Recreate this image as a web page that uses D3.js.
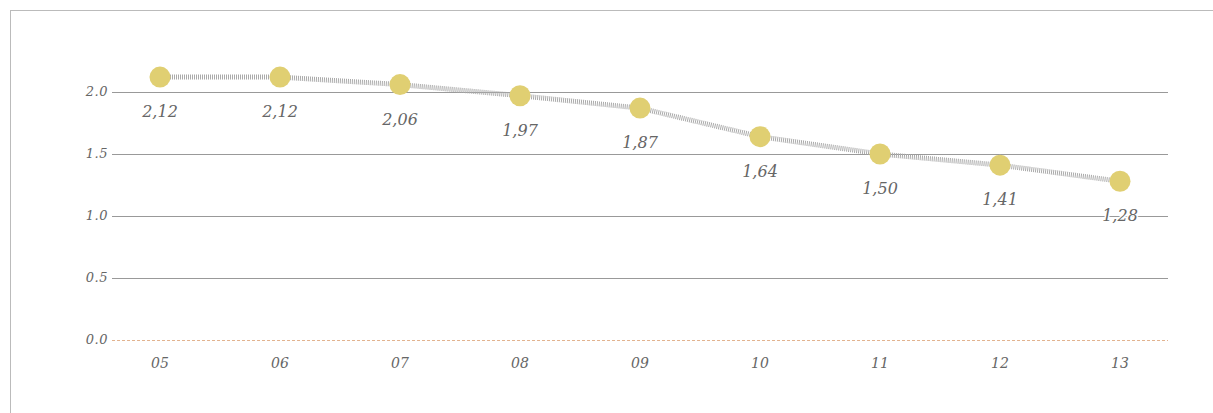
<!DOCTYPE html>
<html>
<head>
<meta charset="utf-8">
<script src="https://cdn.jsdelivr.net/npm/d3@7"></script>
<style>
  body { margin: 0; background: #fff; }
  #chart { position: absolute; left: 10px; top: 10px; width: 1300px; height: 500px;
           border-left: 1px solid #bbb; border-top: 1px solid #bbb; }
  text { font-family: "DejaVu Serif", "Liberation Serif", serif; font-style: italic; fill: #666; }
</style>
</head>
<body>
<div id="chart"></div>
<script>
// data
const years = ["05", "06", "07", "08", "09", "10", "11", "12", "13"];
const values = [2.12, 2.12, 2.06, 1.97, 1.87, 1.64, 1.50, 1.41, 1.28];
const valueLabels = ["2,12", "2,12", "2,06", "1,97", "1,87", "1,64", "1,50", "1,41", "1,28"];
const yTicks = [0, 0.5, 1.0, 1.5, 2.0];

const width = 1213, height = 413;

const svg = d3.select("body").append("svg")
    .attr("width", width)
    .attr("height", height)
    .style("position", "absolute")
    .style("left", 0)
    .style("top", 0);

const x = d3.scalePoint().domain(years).range([112, 1168]).padding(0.4);
const y = d3.scaleLinear().domain([0, 2]).range([340, 92]);

// grid lines
svg.append("g")
  .selectAll("line")
  .data(yTicks)
  .join("line")
    .attr("x1", 112).attr("x2", 1168)
    .attr("y1", d => Math.round(y(d)) + 0.5)
    .attr("y2", d => Math.round(y(d)) + 0.5)
    .attr("stroke", d => d === 0 ? "#e2b38f" : "#999")
    .attr("stroke-width", 1)
    .attr("stroke-dasharray", d => d === 0 ? "3,2" : null);

// y labels
svg.append("g")
  .selectAll("text")
  .data(yTicks)
  .join("text")
    .attr("x", 108)
    .attr("y", d => y(d) + 4)
    .attr("text-anchor", "end")
    .style("font-size", "13px")
    .style("letter-spacing", "0.5px")
    .text(d => d3.format(".1f")(d));

// x labels
svg.append("g")
  .selectAll("text")
  .data(years)
  .join("text")
    .attr("x", d => x(d))
    .attr("y", 368)
    .attr("text-anchor", "middle")
    .style("font-size", "14px")
    .text(d => d);

// line
const line = d3.line()
  .x((d, i) => x(years[i]))
  .y(d => y(d));

svg.append("path")
  .datum(values)
  .attr("fill", "none")
  .attr("stroke", "#aaa")
  .attr("stroke-width", 5)
  .attr("stroke-dasharray", "1,1")
  .attr("d", line);

// value labels (white halo so they cut the grid line)
svg.append("g")
  .selectAll("text")
  .data(values)
  .join("text")
    .attr("x", (d, i) => x(years[i]))
    .attr("y", d => y(d) + 40)
    .attr("text-anchor", "middle")
    .style("font-size", "16px")
    .style("paint-order", "stroke")
    .style("stroke", "#fff")
    .style("stroke-width", 3)
    .text((d, i) => valueLabels[i]);

// dots
svg.append("g")
  .selectAll("circle")
  .data(values)
  .join("circle")
    .attr("cx", (d, i) => x(years[i]))
    .attr("cy", d => y(d))
    .attr("r", 10.5)
    .attr("fill", "#e0cf72");
</script>
</body>
</html>
